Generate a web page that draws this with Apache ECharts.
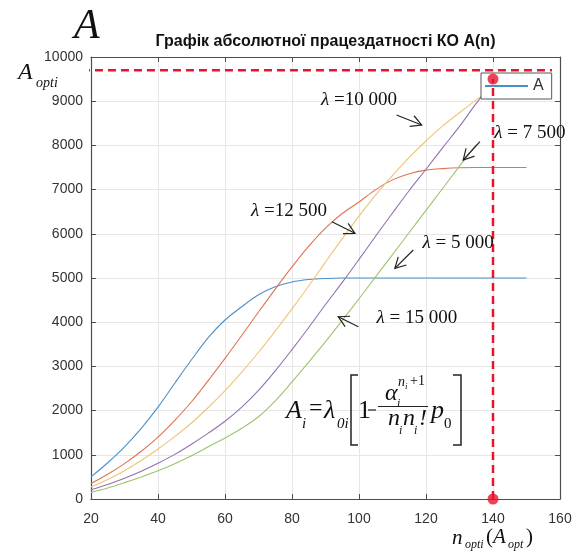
<!DOCTYPE html>
<html>
<head>
<meta charset="utf-8">
<script src="https://cdn.jsdelivr.net/npm/echarts@6/dist/echarts.min.js"></script>
<style>
  html, body { margin: 0; padding: 0; background: #fff; }
  #chart { width: 580px; height: 554px; }
</style>
</head>
<body>
<div id="chart"></div>
<script>
// n values (x axis)
const nValues = [20, 25, 30, 35, 40, 45, 50, 55, 60, 65, 70, 75, 80, 85, 90, 95, 100, 105, 110, 115, 120, 125, 130, 135, 140, 145, 150];

// A(n) for each lambda
const a5000 = [500, 820, 1180, 1600, 2080, 2620, 3150, 3650, 4050, 4350, 4620, 4800, 4910, 4965, 4990, 5000, 5000, 5000, 5000, 5000, 5000, 5000, 5000, 5000, 5000, 5000, 5000];
const a7500 = [350, 560, 800, 1080, 1400, 1780, 2200, 2680, 3180, 3700, 4230, 4750, 5250, 5720, 6130, 6460, 6720, 7000, 7220, 7360, 7440, 7475, 7495, 7500, 7500, 7500, 7500];
const a10000 = [270, 440, 640, 870, 1130, 1410, 1720, 2070, 2450, 2870, 3320, 3800, 4300, 4820, 5360, 5890, 6400, 6880, 7320, 7730, 8100, 8440, 8740, 9030, 9300];
const a12500 = [210, 330, 470, 630, 810, 1010, 1240, 1490, 1760, 2080, 2460, 2900, 3380, 3880, 4400, 4900, 5420, 5950, 6470, 6980, 7460, 7950, 8430, 8950, 9420];
const a15000 = [150, 250, 370, 500, 640, 800, 980, 1180, 1380, 1600, 1860, 2220, 2650, 3100, 3560, 4040, 4530, 5030, 5530, 6030, 6530, 7030, 7530, 8020];

// optimum marks
const nOpt = 140;
const aOptPoint = 9500;
const aOptLevel = 9700;
const aOptLineX = [17.3, 157.6];

// lambda annotations: label position, arrow start, arrow tip (data units)
const lambdaLabels = ['λ =10 000', 'λ = 7 500', 'λ =12 500', 'λ = 5 000', 'λ = 15 000'];
const labelPos = [[100, 9027], [151, 8281], [79.1, 6516], [129.6, 5792], [117.3, 4095]];
const arrowFrom = [[111.2, 8688], [136.1, 8084], [91.9, 6274], [116.2, 5633], [99.8, 3898]];
const arrowTo = [[118.7, 8462], [131.1, 7670], [98.8, 6011], [110.7, 5219], [93.8, 4124]];

const serif = '"Liberation Serif", "Times New Roman", serif';
const sans = '"Liberation Sans", Arial, sans-serif';
const axisColor = '#4d4d4d';
const optRed = '#e8142c';

function pairs(vals) {
  return vals.map((v, i) => [nValues[i], v]);
}

function curve(name, vals, color) {
  return {
    name: name,
    type: 'line',
    data: pairs(vals),
    smooth: 0.35,
    showSymbol: false,
    symbol: 'none',
    lineStyle: { width: 1.1, color: color },
    itemStyle: { color: color },
    silent: true,
    z: 2
  };
}

function txt(x, y, text, font, align) {
  return {
    type: 'text', z: 100, silent: true,
    style: {
      x: x, y: y, text: text, font: font, fill: '#111',
      textAlign: align || 'left', textVerticalAlign: 'middle',
      align: align || 'left', verticalAlign: 'middle'
    }
  };
}

function poly(points, width) {
  return {
    type: 'polyline', z: 100, silent: true,
    shape: { points: points },
    style: { stroke: '#222', lineWidth: width || 1.2, fill: null }
  };
}

const chart = echarts.init(document.getElementById('chart'), null, { renderer: 'canvas' });

const xBase = {
  type: 'value', min: 20, max: 160, interval: 20,
  axisLine: { show: true, onZero: false, lineStyle: { color: axisColor, width: 1.2 } },
  axisTick: { show: true, inside: true, length: 5, lineStyle: { color: axisColor } }
};
const yBase = {
  type: 'value', min: 0, max: 10000, interval: 1000,
  axisLine: { show: true, onZero: false, lineStyle: { color: axisColor, width: 1.2 } },
  axisTick: { show: true, inside: true, length: 5, lineStyle: { color: axisColor } }
};

chart.setOption({
  animation: false,
  backgroundColor: '#fff',
  grid: { left: 91, right: 20, top: 57, bottom: 55 },
  legend: {
    data: ['A'],
    left: 481, top: 73,
    orient: 'horizontal',
    backgroundColor: '#fff',
    borderColor: '#555', borderWidth: 1,
    padding: [5, 8, 5, 4],
    itemWidth: 43, itemHeight: 2, itemGap: 5,
    icon: 'rect',
    textStyle: { fontSize: 16, color: '#333', fontFamily: sans },
    z: 4
  },
  xAxis: [
    Object.assign({}, xBase, {
      position: 'bottom',
      axisLabel: { color: '#333', fontSize: 14, fontFamily: sans, margin: 13 },
      splitLine: { show: true, lineStyle: { color: '#e6e6e6', width: 1 } }
    }),
    Object.assign({}, xBase, {
      position: 'top',
      axisLabel: { show: false },
      splitLine: { show: false }
    })
  ],
  yAxis: [
    Object.assign({}, yBase, {
      position: 'left',
      axisLabel: { color: '#333', fontSize: 14, fontFamily: sans, margin: 8, formatter: (v) => String(v) },
      splitLine: { show: true, lineStyle: { color: '#e6e6e6', width: 1 } }
    }),
    Object.assign({}, yBase, {
      position: 'right',
      axisLabel: { show: false },
      splitLine: { show: false }
    })
  ],
  series: [
    curve('A', a5000, '#4a90c8'),
    curve('λ7500', a7500, '#dd7452'),
    curve('λ10000', a10000, '#f0c476'),
    curve('λ12500', a12500, '#9470b0'),
    curve('λ15000', a15000, '#9cc46c'),
    {
      name: 'optV', type: 'line',
      data: [[nOpt, 0], [nOpt, aOptPoint]],
      symbol: 'none', silent: true, z: 10,
      lineStyle: { color: optRed, width: 2.5, type: [8, 5] }
    },
    {
      name: 'optH', type: 'line', clip: false,
      data: [[aOptLineX[0], aOptLevel], [aOptLineX[1], aOptLevel]],
      symbol: 'none', silent: true, z: 10,
      lineStyle: { color: optRed, width: 2.5, type: [8, 5] }
    },
    {
      name: 'optDots', type: 'scatter', clip: false,
      data: [[nOpt, aOptPoint], [nOpt, 0]],
      symbolSize: 11, silent: true, z: 11,
      itemStyle: { color: optRed }
    }
  ]
});

// annotations
const toPx = (p) => chart.convertToPixel({ seriesIndex: 0 }, p);
const graphics = [];

// title and axis names
graphics.push(txt(325.5, 42, 'Графік абсолютної працездатності КО A(n)', 'bold 16px ' + sans, 'center'));
graphics.push(txt(74, 27, 'A', 'italic 42px ' + serif));
graphics.push(txt(18, 73, 'A', 'italic 24px ' + serif));
graphics.push(txt(36, 83, 'opti', 'italic 14px ' + serif));
graphics.push(txt(452, 538, 'n', 'italic 21px ' + serif));
graphics.push(txt(465, 545, 'opti', 'italic 12px ' + serif));
graphics.push(txt(486, 537, '(', '21px ' + serif));
graphics.push(txt(493, 537, 'A', 'italic 21px ' + serif));
graphics.push(txt(508, 545, 'opt', 'italic 12px ' + serif));
graphics.push(txt(526, 537, ')', '21px ' + serif));

// lambda labels and arrows
for (let i = 0; i < lambdaLabels.length; i++) {
  const p = toPx(labelPos[i]);
  const parts = lambdaLabels[i].split('λ');
  graphics.push({
    type: 'text', z: 100, silent: true,
    style: {
      x: p[0], y: p[1],
      text: '{l|λ}{t|' + parts[1] + '}',
      rich: {
        l: { font: 'italic 19px ' + serif, fill: '#111' },
        t: { font: '19px ' + serif, fill: '#111' }
      },
      textAlign: 'center', textVerticalAlign: 'middle',
      align: 'center', verticalAlign: 'middle'
    }
  });
  const a = toPx(arrowFrom[i]);
  const b = toPx(arrowTo[i]);
  const ang = Math.atan2(b[1] - a[1], b[0] - a[0]);
  const h = 12;
  graphics.push(poly([a, b], 1.2));
  graphics.push(poly([
    [b[0] - h * Math.cos(ang - 0.5), b[1] - h * Math.sin(ang - 0.5)],
    b,
    [b[0] - h * Math.cos(ang + 0.5), b[1] - h * Math.sin(ang + 0.5)]
  ], 1.2));
}

// formula A_i = λ_0i [1 − α_i^(n_i+1) / (n_i n_i!) p_0]
graphics.push(txt(286, 411, 'A', 'italic 26px ' + serif));
graphics.push(txt(302, 424, 'i', 'italic 15px ' + serif));
graphics.push(txt(309, 409, '=', '24px ' + serif));
graphics.push(txt(324, 411, 'λ', 'italic 26px ' + serif));
graphics.push(txt(337, 424, '0i', 'italic 15px ' + serif));
graphics.push(poly([[358, 375], [351, 375], [351, 445], [358, 445]], 1.5));
graphics.push(txt(358, 411, '1', '26px ' + serif));
graphics.push(poly([[368, 410], [376, 410]], 1.2));
graphics.push(poly([[378, 406.5], [428, 406.5]], 1.1));
graphics.push(txt(385, 394, 'α', 'italic 24px ' + serif));
graphics.push(txt(397, 404, 'i', 'italic 12px ' + serif));
graphics.push(txt(398, 382, 'n', 'italic 14px ' + serif));
graphics.push(txt(405, 387, 'i', 'italic 9px ' + serif));
graphics.push(txt(410, 381, '+1', '14px ' + serif));
graphics.push(txt(388, 419, 'n', 'italic 24px ' + serif));
graphics.push(txt(399, 431, 'i', 'italic 12px ' + serif));
graphics.push(txt(403, 419, 'n', 'italic 24px ' + serif));
graphics.push(txt(414, 431, 'i', 'italic 12px ' + serif));
graphics.push(txt(419, 419, '!', 'italic 24px ' + serif));
graphics.push(txt(431, 411, 'p', 'italic 26px ' + serif));
graphics.push(txt(444, 424, '0', '15px ' + serif));
graphics.push(poly([[453, 375], [461, 375], [461, 445], [453, 445]], 1.5));

chart.setOption({ graphic: { elements: graphics } });
</script>
</body>
</html>
